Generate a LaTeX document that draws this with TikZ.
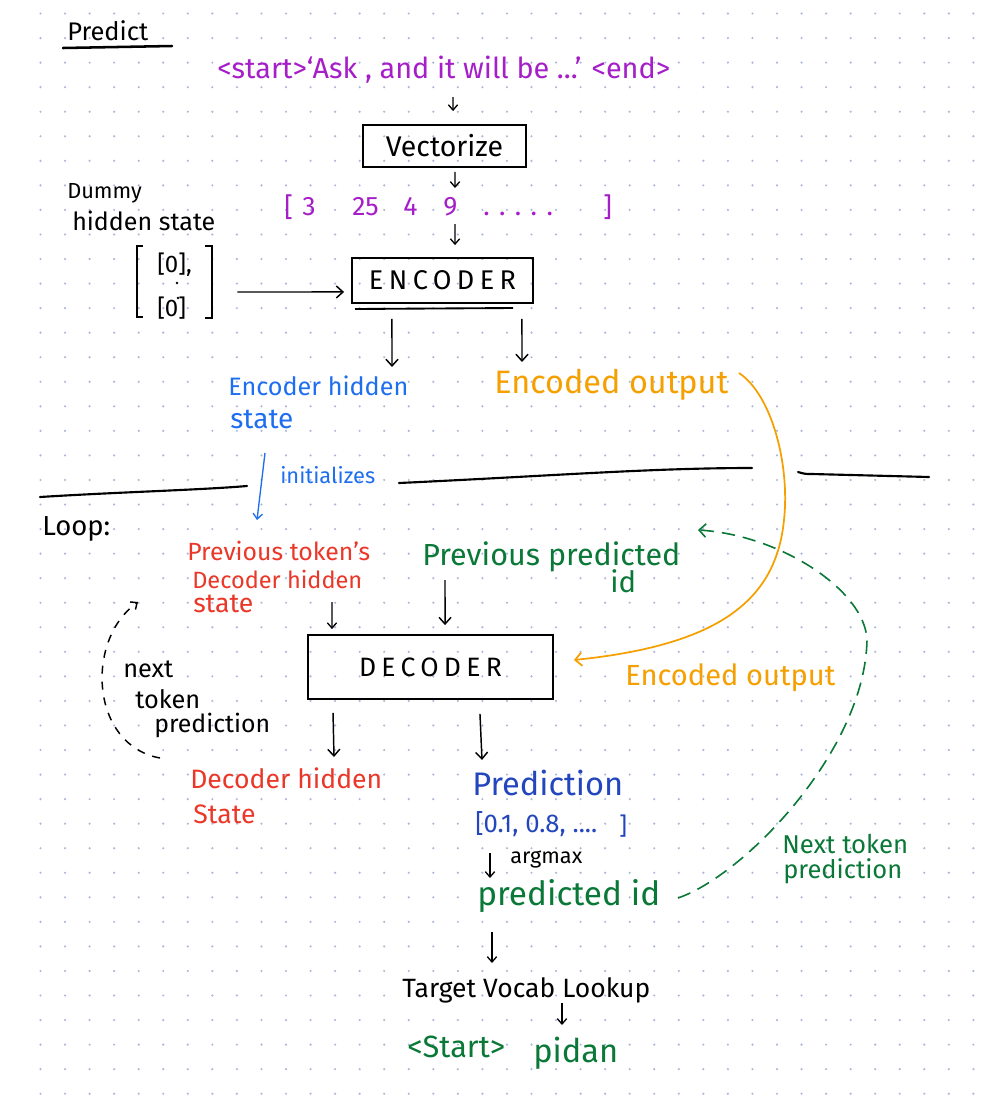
\documentclass[tikz,border=0pt]{standalone}
\usepackage{fontspec}
\setmainfont{Fira Sans}
\usetikzlibrary{arrows.meta}
\definecolor{purpleT}{RGB}{165,30,200}
\definecolor{blueE}{RGB}{30,110,240}
\definecolor{orangeT}{RGB}{245,160,0}
\definecolor{redT}{RGB}{235,55,40}
\definecolor{greenT}{RGB}{10,120,55}
\definecolor{blueP}{RGB}{35,70,190}
\definecolor{dotc}{RGB}{170,185,215}
\newcommand{\fw}[2]{\resizebox{#1pt}{!}{#2}}
\newcommand{\fsz}[1]{\fontsize{#1}{#1}\selectfont}
\begin{document}
\begin{tikzpicture}[x=0.75pt,y=-0.75pt,
  lbl/.style={inner sep=0pt, anchor=base west, font=\fontsize{18}{22}\selectfont},
  boxnode/.style={draw=black, line width=1.4pt, inner sep=0pt},
  arr/.style={-{Straight Barb[length=5pt,width=9pt]}, line width=1.1pt},
  sarr/.style={-{Straight Barb[length=4pt,width=7pt]}, line width=1pt},
  rulel/.style={line width=1.6pt, line cap=round},
]
\fill[white] (0,0) rectangle (986,1104);
\useasboundingbox (0,0) rectangle (986,1104);
\foreach \i in {0,...,38}{\foreach \j in {0,...,44}{\fill[dotc] ({40.5+\i*24.55},{13.5+\j*24.55}) circle (1.2);}}

% ---------- top part ----------
\node[lbl] (predict) at (67,40) {\fw{60.75}{Predict}};
\draw[rulel, line width=1.9pt] (63,48) -- (172,46);

\node[lbl, text=purpleT] (sent) at (217,78) {\fw{339.75}{<start>‘Ask , and it will be ...’ <end>}};

\node[boxnode, minimum width=122.25pt, minimum height=31.5pt] (vec) at (444.5,146) {\fw{88}{Vectorize}};

\node[lbl, text=purpleT, font=\fsz{20}] (nb1) at (284,216) {[};
\node[lbl, text=purpleT, font=\fsz{20}] (n3) at (302,215) {3};
\node[lbl, text=purpleT, font=\fsz{20}] (n25) at (352,215) {25};
\node[lbl, text=purpleT, font=\fsz{20}] (n4) at (403,215) {4};
\node[lbl, text=purpleT, font=\fsz{20}] (n9) at (443,215) {9};
\node[lbl, text=purpleT, font=\fsz{20}] (ndots) at (483,215) {. . . . .};
\node[lbl, text=purpleT, font=\fsz{20}] (nb2) at (603,216) {]};

\node[lbl] (dummy) at (67,198) {\fw{56}{Dummy}};
\node[lbl] (hstate) at (72,230) {\fw{107.25}{hidden state}};

\node[inner sep=0pt, minimum width=56.25pt, minimum height=54pt] (zeros) at (174.5,282) {};
\draw[line width=1.4pt] (143,246) -- (137,246) -- (137,317) -- (143,317);
\draw[line width=1.4pt] (205,246) -- (212,246) -- (212,318) -- (205,318);
\node[lbl] (z1) at (157,272) {[0],};
\node[lbl] (z2) at (157,316) {[0]};
\fill (177,283) circle (1.4);
\fill (178,298) circle (1.4);

\node[boxnode, minimum width=135.75pt, minimum height=33.75pt] (enc) at (442.5,280.5) {\fw{110.25}{\addfontfeature{LetterSpace=20}ENCODER}};
\draw[line width=1.4pt] (355,309) -- (513,308);

\node[lbl, text=blueE] (ehs1) at (228,395) {\fw{135}{Encoder hidden}};
\node[lbl, text=blueE, font=\fsz{21}] (ehs2) at (230,428) {state};
\node[lbl, text=orangeT] (eo1) at (494,393) {\fw{175.5}{Encoded output}};

% arrows top
\coordinate (a1s) at (453,97);
\draw[sarr] (a1s) -- ([xshift=6.4pt,yshift=9.75pt]vec.north);
\coordinate (a2e) at (455,188);
\draw[sarr] ([xshift=7.9pt,yshift=-3pt]vec.south) -- (a2e);
\coordinate (a3s) at (455,224);
\draw[sarr] (a3s) -- ([xshift=9.4pt,yshift=9pt]enc.north);
\draw[arr] ([xshift=18.75pt,yshift=-7.5pt]zeros.east) -- ([xshift=-5.25pt,yshift=-8.6pt]enc.west);
\coordinate (a5e) at (392,367);
\draw[arr] ([xshift=-37.9pt,yshift=-11.25pt]enc.south) -- (a5e);
\coordinate (a6e) at (522,362);
\draw[arr] ([xshift=59.6pt,yshift=-11.25pt]enc.south) -- (a6e);

% separator
\draw[rulel] (40,497) .. controls (120,492) and (200,490) .. (247,486);
\node[lbl, text=blueE] (init) at (280,483) {\fw{71.25}{initializes}};
\draw[rulel] (399,483) .. controls (550,476) and (650,468) .. (752,468);
\draw[rulel] (798,472) .. controls (805,474) .. (812,474) -- (929,477);
\coordinate (is) at (265,453);
\coordinate (ie) at (257,520);
\draw[sarr, blueE] (is) -- (ie);

% ---------- loop part ----------
\node[lbl] (loop) at (42,535) {\fw{51}{Loop:}};
\node[lbl, text=redT] (pt1) at (187,560) {\fw{137.25}{Previous token's}};
\node[lbl, text=redT] (pt2) at (192,588) {\fw{127.5}{Decoder hidden}};
\node[lbl, text=redT, font=\fsz{20}] (pt3) at (193,612) {state};
\node[lbl, text=greenT] (pp1) at (422,565) {\fw{193.5}{Previous predicted}};
\node[lbl, text=greenT, font=\fsz{22}] (pp2) at (610,592) {id};

\node[boxnode, minimum width=183.75pt, minimum height=48pt] (dec) at (430.5,667) {\fw{107.25}{\addfontfeature{LetterSpace=20}DECODER}};

\node[lbl, text=orangeT] (eo2) at (625,685) {\fw{157.5}{Encoded output}};

\node[lbl, font=\fsz{19}] (nt1) at (123,677) {next};
\node[lbl, font=\fsz{19}] (nt2) at (135,708) {token};
\node[lbl] (nt3) at (154,732) {\fw{87}{prediction}};

\coordinate (a7s) at (332,602);
\draw[sarr] (a7s) -- ([xshift=-73.9pt,yshift=3.75pt]dec.north);
\coordinate (a8s) at (445,580);
\draw[arr] (a8s) -- ([xshift=10.9pt,yshift=6.75pt]dec.north);
\coordinate (a9e) at (334,757);
\draw[arr] ([xshift=-73.1pt,yshift=-9.75pt]dec.south) -- (a9e);
\coordinate (a10e) at (482,760);
\draw[arr] ([xshift=37.1pt,yshift=-10.5pt]dec.south) -- (a10e);

\node[lbl, text=redT] (dh1) at (190,788) {\fw{144}{Decoder hidden}};
\node[lbl, text=redT, font=\fsz{20}] (dh2) at (193,823) {State};

\node[lbl, text=blueP] (pred) at (472,795) {\fw{113.25}{Prediction}};
\node[lbl, text=blueP] (probs) at (475,832) {\fw{91.5}{[0.1, 0.8, ....}};
\node[lbl, text=blueP] (probsb) at (619,834) {]};

\coordinate (a11s) at (490,853);
\coordinate (a11e) at (490,878);
\draw[sarr] (a11s) -- (a11e);
\node[lbl] (argm) at (510,863) {\fw{54}{argmax}};

\node[lbl, text=greenT] (pid) at (477,905) {\fw{137.25}{predicted id}};
\node[lbl, text=greenT] (ntp1) at (782,853) {\fw{94.5}{Next token}};
\node[lbl, text=greenT] (ntp2) at (783,878) {\fw{89.25}{prediction}};

\coordinate (a12s) at (492,932);
\coordinate (a12e) at (492,963);
\draw[sarr] (a12s) -- (a12e);
\node[lbl] (tvl) at (402,997) {\fw{186}{Target Vocab Lookup}};
\coordinate (a13s) at (562,1003);
\coordinate (a13e) at (562,1025);
\draw[sarr] (a13s) -- (a13e);
\node[lbl, text=greenT] (st) at (407,1057) {\fw{73.5}{<Start>}};
\node[lbl, text=greenT] (pidan) at (533,1062) {\fw{63.75}{pidan}};

% orange curve: encoded output -> decoder
\coordinate (eos) at (739,373);
\draw[orangeT, line width=1.3pt, -{Straight Barb[length=5pt,width=10pt]}]
  (eos) .. controls (772,395) and (790,465) .. (784,520)
        .. controls (776,600) and (720,645) .. ([xshift=15pt,yshift=5.25pt]dec.east);

% green dashed: predicted id -> previous predicted id
\coordinate (gs) at (678,898);
\coordinate (ge) at (698,530);
\draw[greenT, line width=1.2pt, dash pattern=on 10pt off 6pt, -{Straight Barb[length=5pt,width=10pt]}]
  (gs) .. controls (745,875) and (865,750) .. (867,640)
       .. controls (865,590) and (780,535) .. (ge);

% black dashed loop arc
\coordinate (bs) at (160,758);
\coordinate (be) at (138,602);
\draw[line width=1.1pt, dash pattern=on 6pt off 6pt, -{Straight Barb[length=4pt,width=7pt]}]
  (bs) .. controls (90,745) and (85,640) .. (be);
\end{tikzpicture}
\end{document}
